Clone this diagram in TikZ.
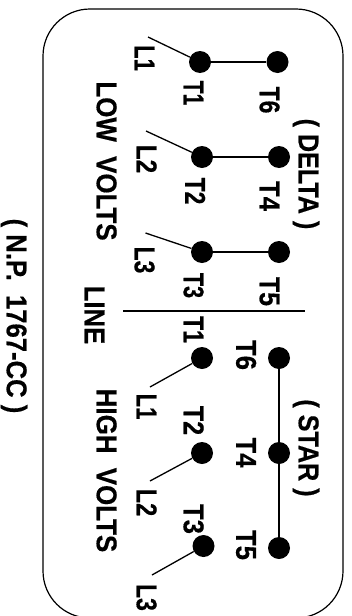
\documentclass[tikz,border=0pt]{standalone}
\usepackage{graphicx}
\usepackage{fontspec}
\setmainfont{Liberation Sans}
\newfontfamily\labfont[FakeBold=0.5]{Liberation Sans Bold}
\tikzset{
  dot/.style={circle,fill=black,draw=none,minimum size=22pt,inner sep=0pt},
  lab/.style={rotate=-90,inner sep=0pt,font=\fontsize{27}{27}\labfont},
  frame/.style={draw=black,line width=1.2pt,rounded corners=47pt},
  tie/.style={draw=black,line width=1.7pt},
  lead/.style={draw=black,line width=1.3pt},
}
\newcommand{\lbl}[5]{\node[lab] (#1) at (#2) {\smash{\raisebox{-.38em}{\scalebox{#3}[1.06]{#4}}}};}
\begin{document}
\begin{tikzpicture}[x=1pt,y=-1pt]
\useasboundingbox (0,0) rectangle (352,616);
\clip (0,0) rectangle (352,616);
\fill[white] (0,0) rectangle (352,616);
\path[frame] (43,9) rectangle (343,618);
% dots
\node[dot] (a1) at (200,62) {};
\node[dot] (a6) at (277.5,62) {};
\node[dot] (a2) at (202,157) {};
\node[dot] (a4) at (279,157) {};
\node[dot] (a3) at (202,252) {};
\node[dot] (a5) at (279,252) {};
\node[dot] (b1) at (202,358) {};
\node[dot] (b6) at (279,358) {};
\node[dot] (b2) at (202,453) {};
\node[dot] (b4) at (279,453) {};
\node[dot] (b3) at (203.5,546) {};
\node[dot] (b5) at (279,548) {};
% free ends
\coordinate (ea1) at (148,37);
\coordinate (ea2) at (146,131);
\coordinate (ea3) at (145.5,233);
\coordinate (eb1) at (150,387);
\coordinate (eb2) at (150,481);
\coordinate (eb3) at (152,575);
\coordinate (ml) at (123,311);
\coordinate (mr) at (305,311);
% connectors
\path[tie] (a1) -- (a6);
\path[tie] (a2) -- (a4);
\path[tie] (a3) -- (a5);
\path[tie,line width=2pt] (b6) -- (b4) -- (b5);
\foreach \n in {a1,a2,a3,b1,b2,b3}{\path[lead] (e\n) -- (\n);}
\path[tie] (ml) -- (mr);
% labels
\lbl{la1}{145,58}{.82}{L1}{}
\lbl{ta1}{194,93}{.78}{T1}{}
\lbl{ta6}{270,100}{.85}{T6}{}
\lbl{delta}{309,174}{.93}{( DELTA )}{}
\lbl{la2}{147,159}{.9}{L2}{}
\lbl{ta2}{195.5,191}{.85}{T2}{}
\lbl{ta4}{270,196}{.95}{T4}{}
\lbl{la3}{145,260}{.85}{L3}{}
\lbl{ta3}{194,285.5}{.8}{T3}{}
\lbl{ta5}{270,291.5}{.92}{T5}{}
\lbl{low}{107,161}{.96}{LOW\hspace{.55em}VOLTS}{}
\lbl{line}{95,315}{.95}{LINE}{}
\lbl{np}{17,316}{.95}{( N.P.\hspace{.55em}1767-CC )}{}
\lbl{tb1}{194,329.5}{.85}{T1}{}
\lbl{tb6}{246.5,355}{.95}{T6}{}
\lbl{lb1}{147,406.5}{.82}{L1}{}
\lbl{high}{107,470.5}{.96}{HIGH\hspace{.55em}VOLTS}{}
\lbl{star}{309,448}{.93}{( STAR )}{}
\lbl{tb2}{194,420.5}{.93}{T2}{}
\lbl{tb4}{246.5,452.5}{.95}{T4}{}
\lbl{lb2}{147,502.5}{.87}{L2}{}
\lbl{tb3}{194,519}{.95}{T3}{}
\lbl{tb5}{246.5,545}{.95}{T5}{}
\lbl{lb3}{147,597.5}{.85}{L3}{}
\end{tikzpicture}
\end{document}
